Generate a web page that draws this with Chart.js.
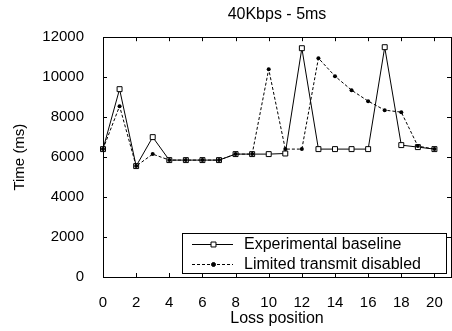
<!DOCTYPE html>
<html>
<head>
<meta charset="utf-8">
<script src="https://cdn.jsdelivr.net/npm/chart.js@4/dist/chart.umd.min.js"></script>
<style>
  html, body { margin: 0; padding: 0; background: #fff; overflow: hidden; }
  #wrap { width: 456px; height: 331px; }
</style>
</head>
<body>
<div id="wrap"><canvas id="lossChart" width="456" height="331"></canvas></div>
<script>
// loss position on x, completion time (ms) on y
const positions = [0, 1, 2, 3, 4, 5, 6, 7, 8, 9, 10, 11, 12, 13, 14, 15, 16, 17, 18, 19, 20];
const baseline = [6400, 9400, 5550, 7000, 5850, 5850, 5850, 5850, 6150, 6150, 6150, 6180, 11450, 6400, 6400, 6400, 6400, 11500, 6600, 6500, 6400];
const limited = [6400, 8550, 5550, 6150, 5850, 5850, 5850, 5850, 6150, 6150, 10400, 6400, 6400, 10950, 10050, 9350, 8800, 8350, 8250, 6550, 6400];
const xTicks = [0, 2, 4, 6, 8, 10, 12, 14, 16, 18, 20];
const yTicks = [0, 2000, 4000, 6000, 8000, 10000, 12000];

const FAMILY = '"Liberation Sans", Arial, sans-serif';
const FONT = { family: FAMILY, size: 15, weight: 'normal' };
const BIG = { family: FAMILY, size: 16, weight: 'normal' };

const toPoints = function(vals) {
    return positions.map(function(p, i) { return { x: p, y: vals[i] }; });
};

// gnuplot style frame: box round the plot with inward ticks on all sides
const framePlugin = {
    id: 'frame',
    afterDatasetsDraw: function(chart) {
        const ctx = chart.ctx, a = chart.chartArea;
        const xs = chart.scales.x, ys = chart.scales.y;
        const len = 4;
        ctx.save();
        ctx.strokeStyle = '#000';
        ctx.lineWidth = 1;
        ctx.strokeRect(Math.round(a.left) + 0.5, Math.round(a.top) + 0.5,
            Math.round(a.right - a.left), Math.round(a.bottom - a.top));
        ctx.beginPath();
        xTicks.forEach(function(v) {
            const px = Math.round(xs.getPixelForValue(v)) + 0.5;
            ctx.moveTo(px, a.bottom); ctx.lineTo(px, a.bottom - len);
            ctx.moveTo(px, a.top); ctx.lineTo(px, a.top + len);
        });
        yTicks.forEach(function(v) {
            const py = Math.round(ys.getPixelForValue(v)) + 0.5;
            ctx.moveTo(a.left, py); ctx.lineTo(a.left + len, py);
            ctx.moveTo(a.right, py); ctx.lineTo(a.right - len, py);
        });
        ctx.stroke();
        ctx.restore();
    }
};

// boxed key in the lower right corner of the plot
const keyPlugin = {
    id: 'key',
    afterDraw: function(chart) {
        const ctx = chart.ctx, a = chart.chartArea;
        const o = chart.options.plugins.key;
        const left = a.left + o.offsetLeft, top = a.bottom - o.offsetBottom;
        ctx.save();
        ctx.fillStyle = '#fff';
        ctx.fillRect(left, top, o.width, o.height);
        ctx.strokeStyle = '#000';
        ctx.lineWidth = 1;
        ctx.strokeRect(Math.round(left) + 0.5, Math.round(top) + 0.5, o.width, o.height);
        ctx.font = BIG.size + 'px ' + FAMILY;
        ctx.textBaseline = 'middle';
        ctx.textAlign = 'left';
        chart.data.datasets.forEach(function(ds, i) {
            const y = Math.round(top + o.firstRow + i * o.rowGap) + 0.5;
            const x0 = left + o.sampleStart, x1 = x0 + o.sampleLen;
            ctx.setLineDash(ds.borderDash || []);
            ctx.strokeStyle = ds.borderColor;
            ctx.lineWidth = ds.borderWidth;
            ctx.beginPath(); ctx.moveTo(x0, y); ctx.lineTo(x1, y); ctx.stroke();
            ctx.setLineDash([]);
            const m = Math.round((x0 + x1) / 2) + 0.5;
            ctx.fillStyle = ds.pointBackgroundColor;
            ctx.strokeStyle = ds.pointBorderColor;
            ctx.beginPath();
            if (ds.pointStyle === 'rect') {
                const s = ds.pointRadius * Math.SQRT1_2;
                ctx.rect(m - s, y - s, 2 * s, 2 * s);
            } else {
                ctx.arc(m, y, ds.pointRadius, 0, Math.PI * 2);
            }
            ctx.fill(); ctx.stroke();
            ctx.fillStyle = '#000';
            ctx.fillText(ds.label, left + o.textStart, y);
        });
        ctx.restore();
    }
};

new Chart(document.getElementById('lossChart'), {
    type: 'line',
    data: {
        datasets: [{
            label: 'Experimental baseline',
            data: toPoints(baseline),
            borderColor: '#000',
            borderWidth: 1,
            pointStyle: 'rect',
            pointRadius: 3.5,
            pointBorderWidth: 1,
            pointBackgroundColor: '#fff',
            pointBorderColor: '#000',
            order: 1,
            clip: 10
        }, {
            label: 'Limited transmit disabled',
            data: toPoints(limited),
            borderColor: '#000',
            borderWidth: 1,
            borderDash: [3, 2],
            pointStyle: 'circle',
            pointRadius: 2,
            pointBorderWidth: 0,
            pointBackgroundColor: '#000',
            pointBorderColor: '#000',
            order: 0,
            clip: 10
        }]
    },
    options: {
        responsive: false,
        animation: false,
        events: [],
        layout: { padding: { left: 0, right: 2, top: 0, bottom: 0 } },
        plugins: {
            legend: { display: false },
            tooltip: { enabled: false },
            title: {
                display: true,
                text: '40Kbps - 5ms',
                fullSize: false,
                color: '#000',
                font: BIG,
                padding: { top: 5, bottom: 13 }
            },
            key: {
                offsetLeft: 79, offsetBottom: 44, width: 264, height: 40,
                firstRow: 10.5, rowGap: 20, sampleStart: 10, sampleLen: 41, textStart: 62
            }
        },
        scales: {
            x: {
                type: 'linear',
                min: 0,
                max: 21,
                grid: { display: false },
                border: { display: false },
                afterBuildTicks: function(scale) {
                    scale.ticks = xTicks.map(function(v) { return { value: v }; });
                },
                afterFit: function(scale) { scale.height = 54; },
                ticks: {
                    color: '#000', font: FONT, padding: 9, maxRotation: 0, autoSkip: false,
                    callback: function(v) { return String(v); }
                },
                title: {
                    display: true, text: 'Loss position', color: '#000', font: BIG,
                    padding: { top: 0, bottom: 3 }
                }
            },
            y: {
                min: 0,
                max: 12000,
                grid: { display: false },
                border: { display: false },
                afterBuildTicks: function(scale) {
                    scale.ticks = yTicks.map(function(v) { return { value: v }; });
                },
                afterFit: function(scale) { scale.width = 103; },
                ticks: {
                    color: '#000', font: FONT, padding: 11,
                    callback: function(v) { return String(v); }
                },
                title: {
                    display: true, text: 'Time (ms)', color: '#000', font: FONT,
                    padding: { top: 11, bottom: 0 }
                }
            }
        }
    },
    plugins: [framePlugin, keyPlugin]
});
</script>
</body>
</html>
